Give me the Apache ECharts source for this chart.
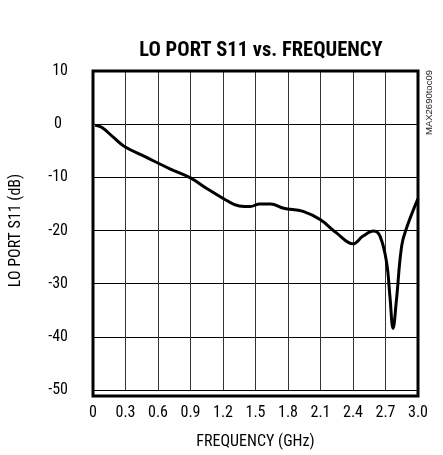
<!DOCTYPE html>
<html><head><meta charset="utf-8">
<script src="https://cdn.jsdelivr.net/npm/echarts@6/dist/echarts.min.js"></script>
<style>html,body{margin:0;padding:0;background:#fff}#c{width:443px;height:455px}</style>
</head><body><div id="c"></div>
<script>
var freqGHz = [0.02,0.08,0.19,0.29,0.49,0.71,0.9,1.05,1.23,1.35,1.45,1.54,1.64,1.76,1.94,2.1,2.25,2.4,2.49,2.59,2.65,2.71,2.74,2.77,2.80,2.85,2.90,3.0];
var s11dB =   [-0.2,-0.6,-2.5,-4.2,-6.2,-8.4,-10.1,-12.1,-14.3,-15.4,-15.5,-15.0,-15.0,-15.8,-16.4,-18.0,-20.5,-22.5,-21.1,-20.1,-21.1,-26.0,-32.2,-38.4,-33.3,-22.8,-19.2,-14.0];
var xTicks = [0,0.3,0.6,0.9,1.2,1.5,1.8,2.1,2.4,2.7,3.0];
var yTicks = [10,0,-10,-20,-30,-40,-50];
var FONT = '"Roboto Condensed","Liberation Sans Narrow","Arial Narrow",sans-serif';
var chart = echarts.init(document.getElementById('c'));
var data = freqGHz.map(function(f,i){return [f,s11dB[i]];});
chart.setOption({
  animation:false,
  title:{text:'LO PORT S11 vs. FREQUENCY',left:256,top:35,textAlign:'center',
    textStyle:{fontFamily:FONT,fontWeight:'bold',fontSize:20.5,color:'#000'}},
  grid:{left:93,right:25,top:71,bottom:59},
  xAxis:{type:'value',min:0,max:3.0,interval:0.3,
    name:'FREQUENCY (GHz)',nameLocation:'middle',nameGap:44,
    nameTextStyle:{fontFamily:FONT,fontSize:16,color:'#000'},
    axisLine:{show:false},axisTick:{show:false},
    axisLabel:{fontFamily:FONT,fontSize:16,color:'#000',margin:15,
      formatter:function(v){var t=xTicks.filter(function(x){return Math.abs(x-v)<1e-6;});
        if(!t.length)return ''; return v===0?'0':v.toFixed(1);}},
    splitLine:{show:true,lineStyle:{color:'#333',width:1}}},
  yAxis:{type:'value',min:-50,max:10,interval:10,
    name:'LO PORT S11 (dB)',nameLocation:'middle',nameGap:69,nameRotate:90,
    nameTextStyle:{fontFamily:FONT,fontSize:16,color:'#000'},
    axisLine:{show:false},axisTick:{show:false},
    axisLabel:{fontFamily:FONT,fontSize:16,color:'#000',margin:25,
      formatter:function(v){var t=yTicks.filter(function(y){return y===v;});
        if(!t.length)return ''; return v===0?'{z|0}':String(v);},
      rich:{z:{fontFamily:FONT,fontSize:16,color:'#000',padding:[0,6,0,0]}}},
    splitLine:{show:true,lineStyle:{color:'#000',width:1}}},
  graphic:[
    {type:'rect',shape:{x:93,y:71,width:325,height:325},style:{fill:'none',stroke:'#000',lineWidth:3},z:100},
    {type:'text',x:429,y:135,rotation:Math.PI/2,style:{text:'MAX2690toc09',fontFamily:'"Liberation Sans",sans-serif',fontSize:9.5,fill:'#222',textAlign:'left',textVerticalAlign:'middle'}}
  ],
  series:[{type:'line',data:data,smooth:0.4,showSymbol:false,
    lineStyle:{color:'#000',width:3}}]
});
</script></body></html>
